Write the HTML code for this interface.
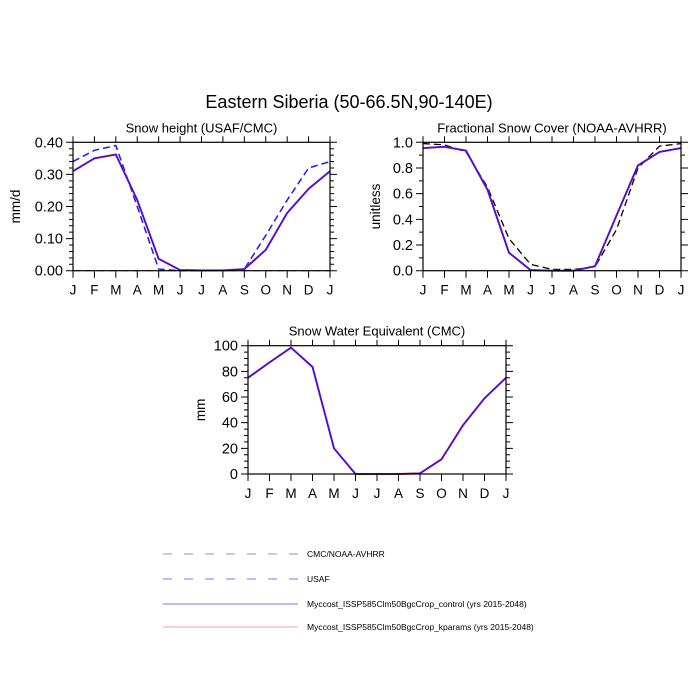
<!DOCTYPE html>
<html><head><meta charset="utf-8"><style>body{margin:0;background:#fff}svg{display:block}text{font-family:"Liberation Sans",sans-serif;fill:#000}</style></head><body>
<svg id="s" width="700" height="700" xmlns="http://www.w3.org/2000/svg"></svg>
<script>
const s=document.getElementById('s');let h='';
h+='<text x="349" y="108" font-size="18" text-anchor="middle">Eastern Siberia (50-66.5N,90-140E)</text>';
const M='JFMAMJJASONDJ';
function plot(x0,x1,yt,yb,ymax,maj,minor,fmt,title,ylab,ylx,series){
 const W=x1-x0,H=yb-yt,X=i=>x0+i*W/12,Y=v=>yb-v/ymax*H;
 h+=`<text x="${(x0+x1)/2}" y="${yt-10}" font-size="13" text-anchor="middle">${title}</text>`;
 h+=`<text transform="translate(${ylx},${(yt+yb)/2}) rotate(-90)" font-size="13.5" text-anchor="middle">${ylab}</text>`;
 let g='';
 for(let i=0;i<=12;i++){const x=X(i);g+=`M${x},${yb}v7M${x},${yt}v-6`;h+=`<text x="${x}" y="${yb+24}" font-size="13.5" text-anchor="middle">${M[i]}</text>`;}
 for(let v=0;v<=ymax+1e-9;v+=maj){const y=Y(v);g+=`M${x0},${y}h-7M${x1},${y}h7`;h+=`<text x="${x0-10}" y="${y+5}" font-size="14.5" text-anchor="end">${fmt(v)}</text>`;}
 for(let v=0;v<=ymax+1e-9;v+=minor){const y=Y(v);g+=`M${x0},${y}h-4M${x1},${y}h4`;}
 h+=`<path d="${g}" stroke="#000" stroke-width="1"/>`;
 for(const [d,c,da,w] of series){h+=`<polyline fill="none" stroke="${c}" stroke-width="${w}" ${da?'stroke-dasharray="'+da+'"':''} points="${d.map((v,i)=>X(i)+','+Y(v)).join(' ')}"/>`;}
 h+=`<rect x="${x0}" y="${yt}" width="${W}" height="${H}" fill="none" stroke="#000" stroke-width="1.2"/>`;
}
const z=Array(13).fill(0);
const c1=[0.31,0.35,0.362,0.22,0.037,0.002,0.001,0.001,0.005,0.065,0.18,0.255,0.31];
plot(73,330,142.3,270.7,0.4,0.1,0.02,v=>v.toFixed(2),'Snow height (USAF/CMC)','mm/d',20,[
 [z,'#666','7,5',1],[[0.34,0.375,0.39,0.2,0.005,0,0,0,0.005,0.11,0.22,0.32,0.34],'#1a1aff','7,4',1.5],[c1,'#ff3333','',2],[c1,'#3a10f0','',1.6]]);
const c2=[0.955,0.965,0.935,0.63,0.14,0.005,0,0,0.035,0.43,0.82,0.925,0.955];
plot(423,681,142.3,270.7,1.0,0.2,0.1,v=>v.toFixed(1),'Fractional Snow Cover (NOAA-AVHRR)','unitless',380,[
 [[0.99,0.98,0.925,0.65,0.25,0.05,0.01,0.01,0.03,0.32,0.8,0.97,0.99],'#000','7,4',1.3],[c2,'#ff3333','',2],[c2,'#3a10f0','',1.6]]);
const c3=[75,87,98.5,83.5,20,0,0,0,0.5,11.5,38,59,75];
plot(248,506,345.7,474,100,20,5,v=>Math.round(v),'Snow Water Equivalent (CMC)','mm',205,[
 [z,'#666','7,5',1],[c3,'#ff3333','',2],[c3,'#3a10f0','',1.6]]);
const L=[['CMC/NOAA-AVHRR','#999','9,12',554],['USAF','#77f','9,12',579],['Myccost_ISSP585Clm50BgcCrop_control (yrs 2015-2048)','#77f','',604],['Myccost_ISSP585Clm50BgcCrop_kparams (yrs 2015-2048)','#f99','',627]];
for(const [t,c,d,y] of L){h+=`<line x1="163" x2="298" y1="${y}" y2="${y}" stroke="${c}" stroke-width="1" ${d?'stroke-dasharray="'+d+'"':''}/><text x="307" y="${y+3}" font-size="8.5">${t}</text>`;}
s.innerHTML=h;
</script>
</body></html>
